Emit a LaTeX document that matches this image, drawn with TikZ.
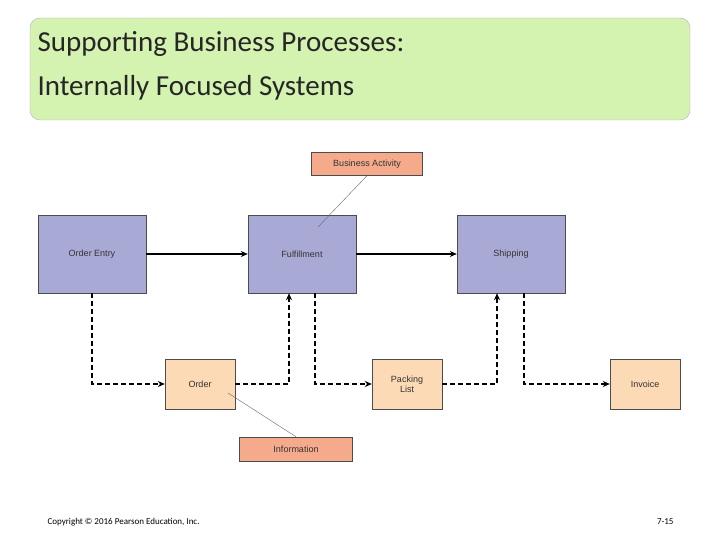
\documentclass[tikz,border=0pt]{standalone}
\usepackage{fontspec}
\setmainfont{Carlito}
\newfontfamily\arialfont{Liberation Sans}
\usetikzlibrary{arrows.meta,positioning}

\definecolor{procblue}{HTML}{A9A9D6}
\definecolor{docorange}{HTML}{FDDAB6}
\definecolor{tagred}{HTML}{F5AA8C}
\definecolor{titlegreen}{HTML}{D4F2B0}

\begin{document}
\begin{tikzpicture}[x=1pt,y=-1pt,>={Stealth[length=7pt,width=6pt]},
    process/.style={draw=black!70, fill=procblue, minimum width=108pt, minimum height=78pt, font=\arialfont\fontsize{9}{10}\selectfont, text=black!80},
    document/.style={draw=black!70, fill=docorange, minimum width=70pt, minimum height=50pt, align=center, font=\arialfont\fontsize{9}{10}\selectfont, text=black!80},
    tag/.style={draw=black!70, fill=tagred, minimum width=111pt, minimum height=23pt, font=\arialfont\fontsize{9}{10}\selectfont, text=black!80},
    flow/.style={->, line width=1.4pt},
    dataflow/.style={->, line width=1.4pt, dash pattern=on 5pt off 3pt},
    leader/.style={draw=black!60, thin}]
    \useasboundingbox (0,0) rectangle (720,540);

    % title
    \node[draw=black!30, fill=titlegreen, rounded corners=10pt, minimum width=660pt, minimum height=102pt] (title) at (360,69) {};
    \node[anchor=north west, align=left, font=\fontsize{29}{44}\selectfont, text=black!85] (titletext) at (34,28) {Supporting Business Processes:\\Internally Focused Systems};

    % processes
    \node[process] (entry)   at (92,254)  {Order Entry};
    \node[process] (fulfil)  at (302,254) {Fulfillment};
    \node[process] (ship)    at (511,254) {Shipping};

    % documents
    \node[document] (order)   at (200,384) {Order};
    \node[document] (packing) at (407,384) {Packing\\List};
    \node[document] (invoice) at (645,384) {Invoice};

    % labels
    \node[tag] (activity) at (367,164) {Business Activity};
    \node[tag, minimum width=113pt, minimum height=24pt] (info) at (296,449) {Information};

    % flows
    \draw[flow] (entry) -- (fulfil);
    \draw[flow] (fulfil) -- (ship);
    \draw[dataflow] (entry.south) |- (order.west);
    \draw[dataflow] (order.east) -| ([xshift=-13pt]fulfil.south);
    \draw[dataflow] ([xshift=13pt]fulfil.south) |- (packing.west);
    \draw[dataflow] (packing.east) -| ([xshift=-14pt]ship.south);
    \draw[dataflow] ([xshift=13pt]ship.south) |- (invoice.west);

    % leaders
    \coordinate (acttip) at (318,227);
    \coordinate (infotip) at (228,393);
    \draw[leader] (activity.south) -- (acttip);
    \draw[leader] (info.north) -- (infotip);

    % footer
    \node[anchor=west, font=\fontsize{9}{10}\selectfont] (copy) at (44,522) {Copyright © 2016 Pearson Education, Inc.};
    \node[anchor=east, font=\fontsize{9}{10}\selectfont] (page) at (677,522) {7-15};
\end{tikzpicture}
\end{document}
